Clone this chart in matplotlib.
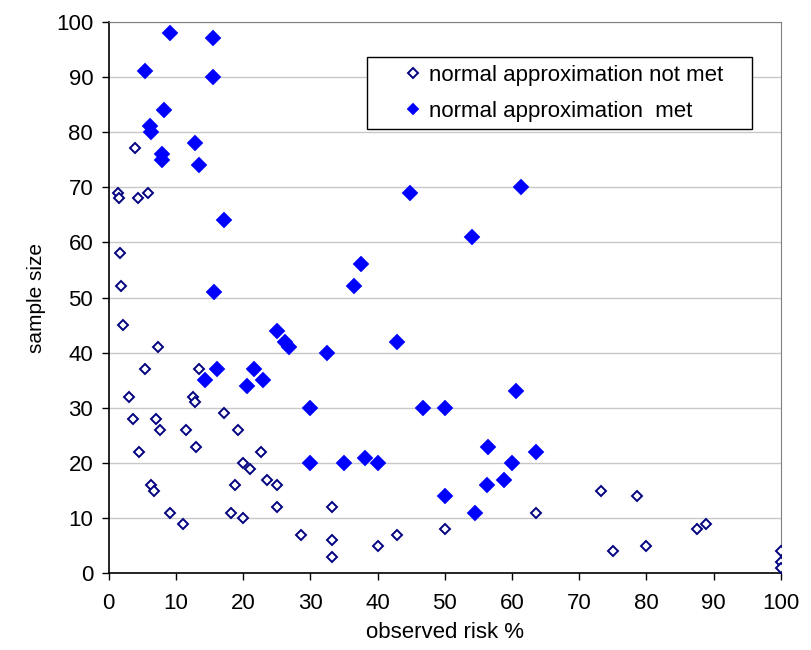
import matplotlib.pyplot as plt
from matplotlib.patches import Rectangle

plt.rcParams['font.family'] = ['Liberation Sans', 'DejaVu Sans']
plt.rcParams['font.size'] = 16

# observed risk (%) and sample size for each study
risk_not_met = [3.9, 1.4, 1.5, 4.4, 5.8, 1.7, 1.9, 2.2, 7.3, 5.4, 13.5,
                3.1, 12.5, 12.9, 3.6, 7.1, 7.7, 11.5, 13.0, 17.2, 19.2, 22.7,
                4.5, 20.0, 21.1, 23.5, 25.0, 18.8, 6.3, 6.7, 9.1, 11.1, 18.2,
                20.0, 25.0, 28.6, 33.3, 33.3, 33.3, 40.0, 42.9, 50.0, 63.6,
                73.3, 78.6, 75.0, 80.0, 87.5, 88.9, 100, 100, 100]
n_not_met = [77, 69, 68, 68, 69, 58, 52, 45, 41, 37, 37,
             32, 32, 31, 28, 28, 26, 26, 23, 29, 26, 22,
             22, 20, 19, 17, 16, 16, 16, 15, 11, 9, 11,
             10, 12, 7, 12, 6, 3, 5, 7, 8, 11,
             15, 14, 4, 5, 8, 9, 4, 2, 1]

risk_met = [9.2, 15.5, 5.5, 15.6, 8.3, 6.2, 6.3, 12.8, 7.9, 8.0, 13.5,
            17.2, 15.7, 44.9, 61.4, 54.1, 37.5, 36.5, 25.0, 26.2, 26.8,
            32.5, 42.9, 21.6, 16.2, 14.3, 20.6, 22.9, 30.0, 46.7, 50.0,
            60.6, 56.5, 63.6, 30.0, 35.0, 38.1, 40.0, 60.0, 50.0, 54.5,
            56.3, 58.8]
n_met = [98, 97, 91, 90, 84, 81, 80, 78, 76, 75, 74,
         64, 51, 69, 70, 61, 56, 52, 44, 42, 41,
         40, 42, 37, 37, 35, 34, 35, 30, 30, 30,
         33, 23, 22, 20, 20, 21, 20, 20, 14, 11,
         16, 17]

fig = plt.figure(figsize=(8.11, 6.5), dpi=100)
ax = fig.add_axes([0.1338, 0.1177, 0.8292, 0.8492])

ax.plot(risk_not_met, n_not_met, 'D', ls='none', ms=5.6, mfc='white',
        mec='#000080', mew=1.4, label='normal approximation not met', zorder=3)
ax.plot(risk_met, n_met, 'D', ls='none', ms=8.2, mfc='#0000FF',
        mec='#0000FF', mew=0.3, label='normal approximation  met', zorder=4)

ax.set_xlim(0, 100)
ax.set_ylim(0, 100)
ax.set_xticks(range(0, 101, 10))
ax.set_yticks(range(0, 101, 10))
ax.yaxis.grid(True, color='#c8c8c8', lw=1.0)
ax.set_axisbelow(True)

ax.spines['left'].set_color('black')
ax.spines['bottom'].set_color('black')
ax.spines['left'].set_linewidth(1.2)
ax.spines['bottom'].set_linewidth(1.2)
ax.spines['top'].set_color('#808080')
ax.spines['right'].set_color('#808080')
ax.tick_params(direction='out', length=5, width=1, color='black')
ax.tick_params(axis='x', pad=9)
ax.tick_params(axis='y', pad=6)

ax.set_xlabel('observed risk %', labelpad=6)
ax.set_ylabel('sample size', fontsize=15, labelpad=7)

# legend box: wide white frame with the entries inset from its left edge
ax.add_patch(Rectangle((0.3844, 0.8053), 0.5725, 0.1304, transform=ax.transAxes,
                       facecolor='white', edgecolor='black', lw=1.0, zorder=6))
leg = ax.legend(loc='upper left', bbox_to_anchor=(0.4409, 0.9214),
                frameon=False, handlelength=0.72, handletextpad=0.36,
                borderpad=0, labelspacing=0.68, fontsize=16, borderaxespad=0)
leg.set_zorder(7)
# legend symbols are drawn a little smaller than the plotted points
leg.legend_handles[0].set_markersize(5.2)
leg.legend_handles[1].set_markersize(6.4)

fig.savefig('out.png', dpi=100)
